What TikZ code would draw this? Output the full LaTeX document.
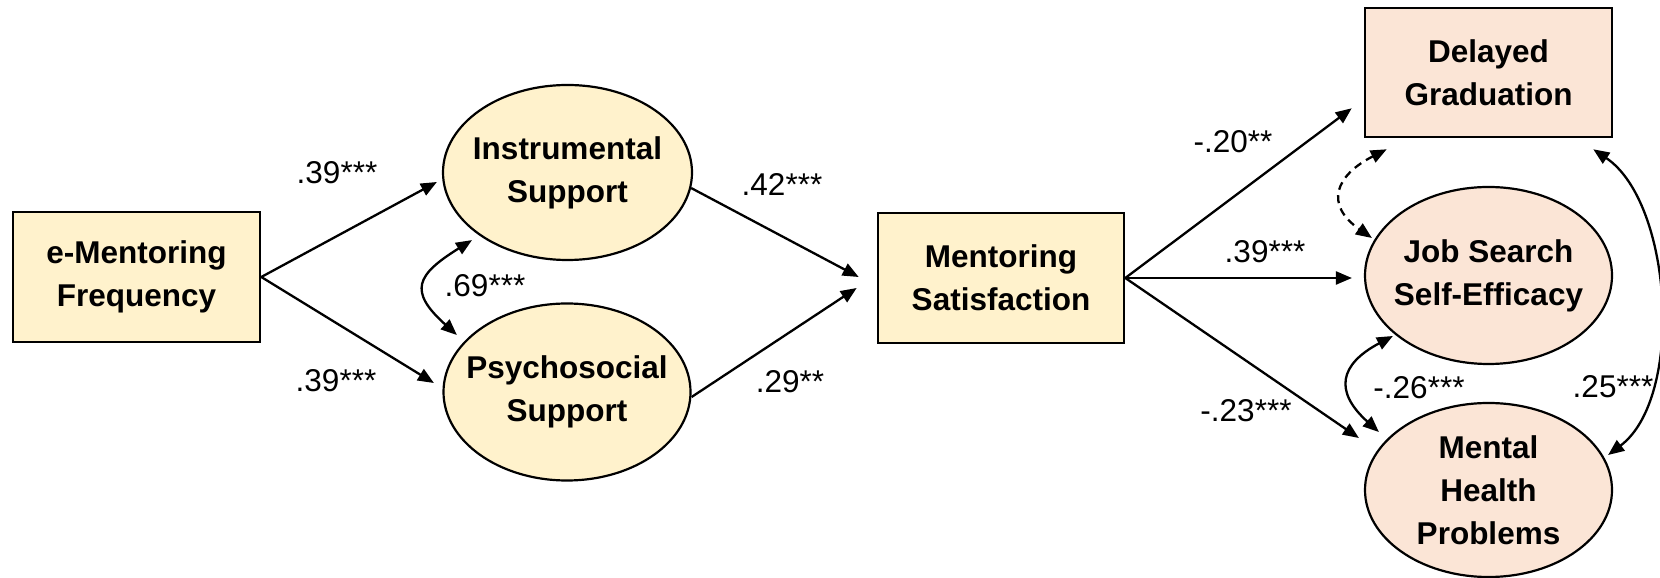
\documentclass[tikz,border=0pt]{standalone}
\usepackage{fontspec}
\setmainfont{Liberation Sans}
\usetikzlibrary{arrows.meta,shapes.geometric,calc}
\definecolor{yfill}{HTML}{FFF2CC}
\definecolor{pfill}{HTML}{FBE5D6}
\begin{document}
\begin{tikzpicture}[x=0.5pt,y=0.5pt,
  txt/.style={font=\fontsize{15.75}{21.5}\selectfont\bfseries, align=center, inner sep=0pt},
  lbl/.style={font=\fontsize{15.75}{18}\selectfont, inner sep=0pt},
  boxn/.style={draw, rectangle, line width=1.3pt, inner sep=0pt, txt},
  elln/.style={draw, ellipse, line width=1.1pt, inner sep=0pt},
  arr/.style={line width=1.15pt, -{Triangle[length=8pt,width=6.5pt]}},
  darr/.style={line width=1.15pt, {Triangle[length=8pt,width=6.5pt]}-{Triangle[length=8pt,width=6.5pt]}},
  dsh/.style={dash pattern=on 4pt off 2.8pt}
]
\useasboundingbox (0,0) rectangle (1660,578);

% nodes
\node[boxn, fill=yfill, minimum width=123.5pt, minimum height=65pt] (em) at (136.5,301) {e-Mentoring\\Frequency};
\node[elln, fill=yfill, minimum width=124.5pt, minimum height=87.5pt] (ins) at (567.5,405.5) {};
\node[txt] (insT) at (ins) {Instrumental\\Support};
\node[elln, fill=yfill, minimum width=123.5pt, minimum height=88.5pt] (psy) at (567,186) {};
\node[txt] (psyT) at (psy) {Psychosocial\\Support};
\node[boxn, fill=yfill, minimum width=123pt, minimum height=65pt] (ms) at (1001,300) {Mentoring\\Satisfaction};
\node[boxn, fill=pfill, minimum width=123.5pt, minimum height=64.5pt] (dg) at (1488.5,505.5) {Delayed\\Graduation};
\node[elln, fill=pfill, minimum width=123.5pt, minimum height=88.5pt] (js) at (1488.5,302.5) {};
\node[txt] (jsT) at (js) {Job Search\\Self-Efficacy};
\node[elln, fill=pfill, minimum width=123.5pt, minimum height=87pt] (mh) at (1488.5,88) {};
\node[txt] (mhT) at (mh) {Mental\\Health\\Problems};

% straight paths
\draw[arr] (em.east) -- ($(ins.west)+(-5,-9.5)$);
\draw[arr] (em.east) -- ($(psy.west)+(-8.5,9)$);
\draw[arr] ($(ins.east)+(-2,-15.5)$) -- ($(ms.west)+(-18,1)$);
\draw[arr] ($(psy.east)+(0,-5)$) -- ($(ms.west)+(-20,-10)$);
\draw[arr] (ms.east) -- ($(dg.south west)+(-12,30)$);
\draw[arr] (ms.east) -- ($(ms.east -| js.west)+(-12,0)$);
\draw[arr] (ms.east) -- ($(mh.west)+(-5,52)$);

% correlations
\draw[darr] ($(ins.south)+(-95.5,21)$) to[out=212, in=138, looseness=1.75] ($(psy.west)+(14.5,57)$);
\draw[darr, dsh] ($(dg.south west)+(23,-11)$) to[out=207, in=145, looseness=1.65] ($(js.west)+(8,37.5)$);
\draw[darr] ($(js.west)+(29,-60.5)$) to[out=208, in=138, looseness=1.6] ($(mh.west)+(15,58)$);
\draw[darr] ($(dg.south east)+(-20,-11)$) to[out=-34, in=37, looseness=0.8] ($(mh.east)+(-5,35)$);

% labels
\node[lbl] (l1) at (337,405) {.39***};
\node[lbl] (l2) at (336,197) {.39***};
\node[lbl] (l3) at (485,292) {.69***};
\node[lbl] (l4) at (782,393) {.42***};
\node[lbl] (l5) at (790,196) {.29**};
\node[lbl] (l6) at (1233,436) {-.20**};
\node[lbl] (l7) at (1265,326) {.39***};
\node[lbl] (l8) at (1246,167) {-.23***};
\node[lbl] (l9) at (1419,190.5) {-.26***};
\node[lbl] (l10) at (1613,191) {.25***};
\end{tikzpicture}
\end{document}
